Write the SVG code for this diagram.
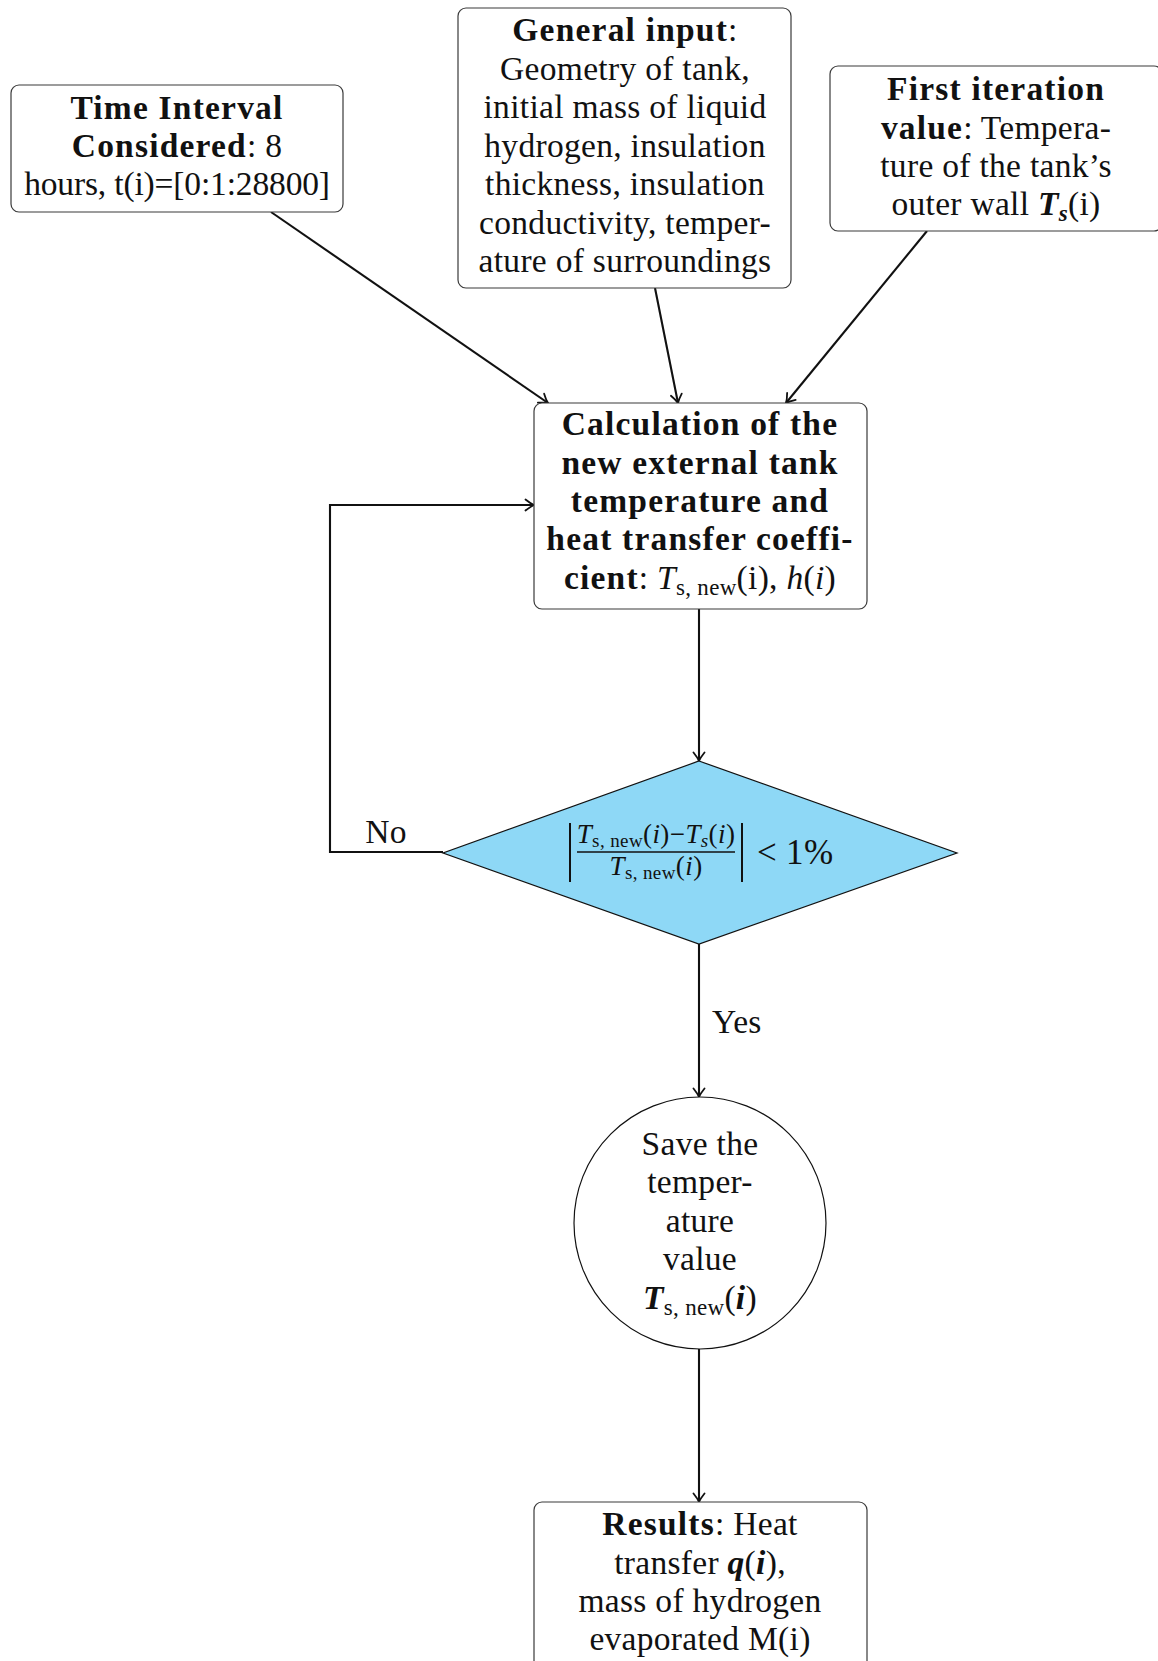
<svg xmlns="http://www.w3.org/2000/svg" width="1158" height="1661" viewBox="0 0 1158 1661">
  <style>
    .box{fill:#fff;stroke:#3a3a3a;stroke-width:1.2}
    .t{font-family:"Liberation Serif","Times New Roman",serif;font-size:33.5px;letter-spacing:0.3px;fill:#111;text-anchor:middle}
    .b{font-weight:bold;letter-spacing:1.2px}
    .m{font-style:italic}
    .bm{font-style:italic;font-weight:bold}
    .sub{font-size:23px}
    .f{font-size:27px;letter-spacing:0.4px}
    .fs{font-size:19px}
    .edge{fill:none;stroke:#111;stroke-width:2.1}
    .rule{stroke:#111;stroke-width:1.5}
    .bar{stroke:#111;stroke-width:2}
  </style>
  <defs>
    <marker id="arr" viewBox="-10 -7 12 14" refX="0" refY="0" markerWidth="12" markerHeight="14" orient="auto" markerUnits="userSpaceOnUse">
      <path d="M-8.5,-5.5 Q-3.5,-1.5 0,0 Q-3.5,1.5 -8.5,5.5" fill="none" stroke="#111" stroke-width="1.8" stroke-linecap="round"/>
    </marker>
  </defs>

  <!-- connectors -->
  <g id="edges">
    <path class="edge" d="M271,212 L548,403" marker-end="url(#arr)"/>
    <path class="edge" d="M655,288 L678,403" marker-end="url(#arr)"/>
    <path class="edge" d="M927,231 L786,403" marker-end="url(#arr)"/>
    <path class="edge" d="M699,609 L699,761" marker-end="url(#arr)"/>
    <path class="edge" d="M443,852 L330,852 L330,505 L534,505" marker-end="url(#arr)"/>
    <path class="edge" d="M699,944 L699,1097" marker-end="url(#arr)"/>
    <path class="edge" d="M699,1349 L699,1502" marker-end="url(#arr)"/>
    <text class="t" x="386" y="843">No</text>
    <text class="t" x="712" y="1033" style="text-anchor:start">Yes</text>
  </g>

  <!-- time interval -->
  <g id="time">
    <rect class="box" x="11" y="85" width="332" height="127" rx="8"/>
    <text class="t" x="177" y="119"><tspan class="b">Time Interval</tspan></text>
    <text class="t" x="177" y="157"><tspan class="b">Considered</tspan>: 8</text>
    <text class="t" x="177" y="195" style="letter-spacing:-0.15px">hours, t(i)=[0:1:28800]</text>
  </g>

  <!-- general input -->
  <g id="general">
    <rect class="box" x="458" y="8" width="333" height="280" rx="8"/>
    <text class="t" x="625" y="41"><tspan class="b">General input</tspan>:</text>
    <text class="t" x="625" y="80">Geometry of tank,</text>
    <text class="t" x="625" y="118">initial mass of liquid</text>
    <text class="t" x="625" y="157">hydrogen, insulation</text>
    <text class="t" x="625" y="195">thickness, insulation</text>
    <text class="t" x="625" y="234">conductivity, temper-</text>
    <text class="t" x="625" y="272">ature of surroundings</text>
  </g>

  <!-- first iteration -->
  <g id="first">
    <rect class="box" x="830" y="66" width="332" height="165" rx="8"/>
    <text class="t" x="996" y="100"><tspan class="b">First iteration</tspan></text>
    <text class="t" x="996" y="139"><tspan class="b">value</tspan>: Tempera-</text>
    <text class="t" x="996" y="177">ture of the tank’s</text>
    <text class="t" x="996" y="215">outer wall <tspan class="bm">T</tspan><tspan class="bm sub" dy="6">s</tspan><tspan dy="-6">(i)</tspan></text>
  </g>

  <!-- calculation -->
  <g id="calc">
    <rect class="box" x="534" y="403" width="333" height="206" rx="8"/>
    <text class="t" x="700" y="435"><tspan class="b">Calculation of the</tspan></text>
    <text class="t" x="700" y="474"><tspan class="b">new external tank</tspan></text>
    <text class="t" x="700" y="512"><tspan class="b">temperature and</tspan></text>
    <text class="t" x="700" y="550"><tspan class="b">heat transfer coeffi-</tspan></text>
    <text class="t" x="700" y="589"><tspan class="b">cient</tspan>: <tspan class="m">T</tspan><tspan class="sub" dy="6">s, new</tspan><tspan dy="-6">(i), </tspan><tspan class="m">h</tspan>(<tspan class="m">i</tspan>)</text>
  </g>

  <!-- convergence check -->
  <g id="check">
    <polygon points="699,761 957,853 699,944 443,853" fill="#8ed8f6" stroke="#111" stroke-width="1.2"/>
    <line class="bar" x1="570" y1="823" x2="570" y2="882"/>
    <line class="bar" x1="742" y1="823" x2="742" y2="882"/>
    <line class="rule" x1="577" y1="852" x2="735" y2="852"/>
    <text class="t f" x="656" y="843"><tspan class="m">T</tspan><tspan class="fs" dy="4">s, new</tspan><tspan dy="-4">(</tspan><tspan class="m">i</tspan>)−<tspan class="m">T</tspan><tspan class="fs m" dy="4">s</tspan><tspan dy="-4">(</tspan><tspan class="m">i</tspan>)</text>
    <text class="t f" x="656" y="875"><tspan class="m">T</tspan><tspan class="fs" dy="4">s, new</tspan><tspan dy="-4">(</tspan><tspan class="m">i</tspan>)</text>
    <text class="t" x="757" y="864" style="text-anchor:start;font-size:35px">&lt; 1%</text>
  </g>

  <!-- save value -->
  <g id="save">
    <circle cx="700" cy="1223" r="126" fill="#fff" stroke="#111" stroke-width="1.2"/>
    <text class="t" x="700" y="1155">Save the</text>
    <text class="t" x="700" y="1193">temper-</text>
    <text class="t" x="700" y="1232">ature</text>
    <text class="t" x="700" y="1270">value</text>
    <text class="t" x="700" y="1309"><tspan class="bm">T</tspan><tspan class="sub" dy="6">s, new</tspan><tspan dy="-6">(</tspan><tspan class="bm">i</tspan>)</text>
  </g>

  <!-- results -->
  <g id="results">
    <rect class="box" x="534" y="1502" width="333" height="200" rx="8"/>
    <text class="t" x="700" y="1535"><tspan class="b">Results</tspan>: Heat</text>
    <text class="t" x="700" y="1574">transfer <tspan class="bm">q</tspan>(<tspan class="bm">i</tspan>),</text>
    <text class="t" x="700" y="1612">mass of hydrogen</text>
    <text class="t" x="700" y="1650">evaporated M(i)</text>
  </g>
</svg>
